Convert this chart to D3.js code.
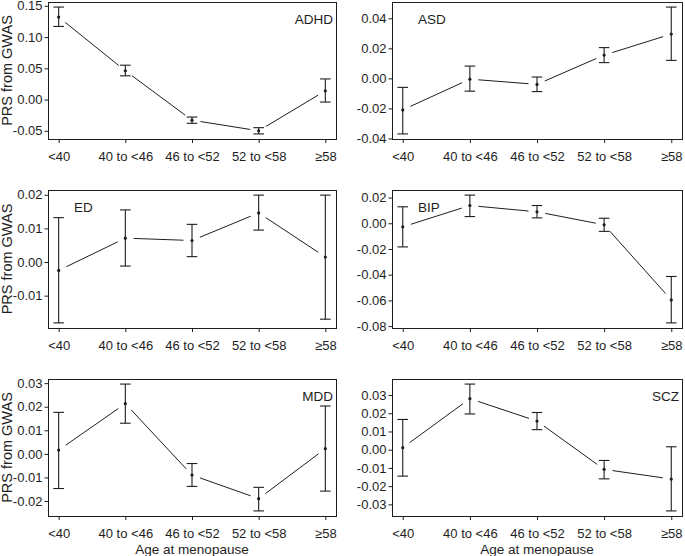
<!DOCTYPE html>
<html>
<head>
<meta charset="utf-8">
<script src="https://cdn.jsdelivr.net/npm/d3@7"></script>
<style>
  html, body { margin: 0; padding: 0; background: #fff; }
  svg { display: block; font-family: "Liberation Sans", Arial, Helvetica, sans-serif; }
</style>
</head>
<body>
<svg id="chart" width="685" height="556"></svg>
<script>
// ---------- data ----------
const categories = ["<40", "40 to <46", "46 to <52", "52 to <58", "\u226558"];
const traits = ["ADHD", "ASD", "ED", "BIP", "MDD", "SCZ"];

const adhdMean = [0.132, 0.046, -0.033, -0.050, 0.014];
const adhdLow  = [0.117, 0.038, -0.038, -0.055, -0.004];
const adhdHigh = [0.148, 0.055, -0.028, -0.045, 0.033];
const adhdTicks = [-0.05, 0.00, 0.05, 0.10, 0.15];

const asdMean = [-0.021, -0.0005, -0.004, 0.0155, 0.0295];
const asdLow  = [-0.037, -0.0085, -0.0088, 0.0105, 0.012];
const asdHigh = [-0.006, 0.0082, 0.0009, 0.0205, 0.0475];
const asdTicks = [-0.04, -0.02, 0.00, 0.02, 0.04];

const edMean = [-0.0025, 0.0071, 0.0064, 0.0146, 0.0015];
const edLow  = [-0.0181, -0.0012, 0.0016, 0.0095, -0.0170];
const edHigh = [0.0132, 0.0155, 0.0112, 0.0199, 0.0199];
const edTicks = [-0.01, 0.00, 0.01, 0.02];

const bipMean = [-0.0028, 0.0138, 0.0089, -0.0012, -0.0596];
const bipLow  = [-0.0184, 0.0052, 0.0042, -0.0063, -0.0775];
const bipHigh = [0.0128, 0.0219, 0.0138, 0.0039, -0.0414];
const bipTicks = [-0.08, -0.06, -0.04, -0.02, 0.00, 0.02];

const mddMean = [0.0016, 0.0213, -0.0090, -0.0190, 0.0022];
const mddLow  = [-0.0147, 0.0130, -0.0138, -0.0242, -0.0158];
const mddHigh = [0.0176, 0.0296, -0.0041, -0.0142, 0.0203];
const mddTicks = [-0.02, -0.01, 0.00, 0.01, 0.02, 0.03];

const sczMean = [0.0011, 0.0280, 0.0157, -0.0108, -0.0161];
const sczLow  = [-0.0145, 0.0196, 0.0110, -0.0160, -0.0336];
const sczHigh = [0.0166, 0.0360, 0.0204, -0.0059, 0.0016];
const sczTicks = [-0.03, -0.02, -0.01, 0.00, 0.01, 0.02, 0.03];

const yTitle = "PRS from GWAS";
const xTitle = "Age at menopause";

// ---------- layout ----------
const panelData = [
  { name: traits[0], mean: adhdMean, low: adhdLow, high: adhdHigh, ticks: adhdTicks, labelSide: "right" },
  { name: traits[1], mean: asdMean,  low: asdLow,  high: asdHigh,  ticks: asdTicks,  labelSide: "left" },
  { name: traits[2], mean: edMean,   low: edLow,   high: edHigh,   ticks: edTicks,   labelSide: "left" },
  { name: traits[3], mean: bipMean,  low: bipLow,  high: bipHigh,  ticks: bipTicks,  labelSide: "left" },
  { name: traits[4], mean: mddMean,  low: mddLow,  high: mddHigh,  ticks: mddTicks,  labelSide: "right" },
  { name: traits[5], mean: sczMean,  low: sczLow,  high: sczHigh,  ticks: sczTicks,  labelSide: "right" }
];

const cols = [[48, 336], [392, 682]];
const rows = [[2, 139], [190, 328], [379, 516]];
const ink = "#1e1e1e";
const gap = 8.5;       // gap between connecting line and point (type="b")
const capHalf = 5.3;

const svg = d3.select("#chart");

const fmt = d => (Math.abs(d) < 1e-12 ? 0 : d).toFixed(2);

panelData.forEach((p, i) => {
  const c = i % 2, r = Math.floor(i / 2);
  const [x0, x1] = cols[c];
  const [y0, y1] = rows[r];

  // R-style 4% axis expansion
  const lo = d3.min(p.low), hi = d3.max(p.high);
  const pad = (hi - lo) * 0.04;
  const y = d3.scaleLinear().domain([lo - pad, hi + pad]).range([y1, y0]);
  const x = d3.scaleLinear().domain([1 - 0.16, 5 + 0.16]).range([x0, x1]);

  const g = svg.append("g");

  // y axis
  const ya = g.append("g")
    .attr("transform", `translate(${x0},0)`)
    .call(d3.axisLeft(y).tickValues(p.ticks).tickFormat(fmt).tickSize(3.5).tickPadding(2));
  ya.select(".domain").remove();
  ya.selectAll("line").attr("stroke", ink);
  ya.selectAll("text").attr("fill", ink).style("font-size", "13px");

  // x axis
  const xa = g.append("g")
    .attr("transform", `translate(0,${y1})`)
    .call(d3.axisBottom(x).tickValues([1, 2, 3, 4, 5]).tickFormat(d => categories[d - 1]).tickSize(4).tickPadding(8.5));
  xa.select(".domain").remove();
  xa.selectAll("line").attr("stroke", ink);
  xa.selectAll("text").attr("fill", ink).style("font-size", "13px");

  // box
  g.append("rect")
    .attr("x", x0 + 0.5).attr("y", y0 + 0.5)
    .attr("width", x1 - x0).attr("height", y1 - y0)
    .attr("fill", "none").attr("stroke", ink).attr("stroke-width", 1);

  // connecting lines with gaps
  const pts = p.mean.map((m, k) => [x(k + 1), y(m)]);
  for (let k = 0; k < pts.length - 1; k++) {
    const [ax, ay] = pts[k], [bx, by] = pts[k + 1];
    const dx = bx - ax, dy = by - ay, len = Math.hypot(dx, dy);
    if (len <= 2 * gap) continue;
    const ux = dx / len, uy = dy / len;
    g.append("line")
      .attr("x1", ax + ux * gap).attr("y1", ay + uy * gap)
      .attr("x2", bx - ux * gap).attr("y2", by - uy * gap)
      .attr("stroke", ink).attr("stroke-width", 1);
  }

  // error bars
  p.mean.forEach((m, k) => {
    const cx = x(k + 1);
    const eb = g.append("g").attr("stroke", ink).attr("stroke-width", 1.1);
    eb.append("line").attr("x1", cx).attr("x2", cx).attr("y1", y(p.low[k])).attr("y2", y(p.high[k]));
    eb.append("line").attr("x1", cx - capHalf).attr("x2", cx + capHalf).attr("y1", y(p.low[k])).attr("y2", y(p.low[k]));
    eb.append("line").attr("x1", cx - capHalf).attr("x2", cx + capHalf).attr("y1", y(p.high[k])).attr("y2", y(p.high[k]));
    g.append("circle").attr("cx", cx).attr("cy", y(m)).attr("r", 1.6).attr("fill", ink);
  });

  // panel label
  const lbl = g.append("text")
    .attr("y", y0 + 17.5).attr("dy", "0.35em")
    .attr("fill", ink).style("font-size", "13.5px")
    .text(p.name);
  if (p.labelSide === "right") lbl.attr("x", x1 - 3).attr("text-anchor", "end");
  else lbl.attr("x", x0 + 26).attr("text-anchor", "start");

  // y title (left column)
  if (c === 0) {
    g.append("text")
      .attr("transform", `translate(7,${(y0 + y1) / 2}) rotate(-90)`)
      .attr("text-anchor", "middle").attr("dy", "0.35em")
      .attr("fill", ink).style("font-size", "14.5px")
      .text(yTitle);
  }
  // x title (bottom row)
  if (r === 2) {
    g.append("text")
      .attr("x", (x0 + x1) / 2).attr("y", 549).attr("dy", "0.35em")
      .attr("text-anchor", "middle")
      .attr("fill", ink).style("font-size", "13.5px")
      .text(xTitle);
  }
});
</script>
</body>
</html>
